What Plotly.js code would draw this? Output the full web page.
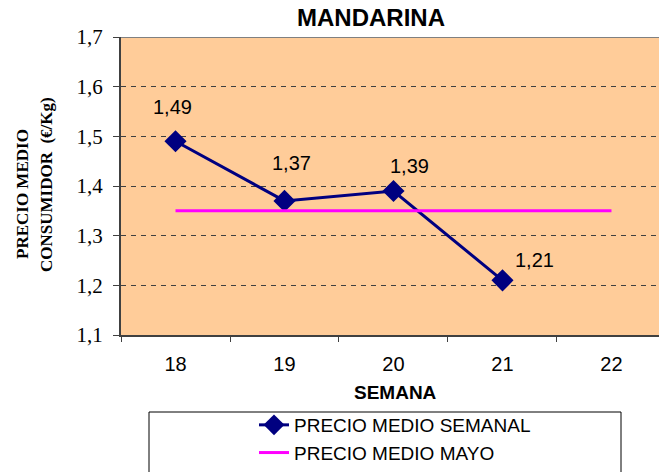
<!DOCTYPE html>
<html>
<head>
<meta charset="utf-8">
<script src="https://cdn.plot.ly/plotly-3.0.1.min.js"></script>
<style>html,body{margin:0;padding:0;background:#fff;}#chart{width:659px;height:472px;}</style>
</head>
<body>
<div id="chart"></div>
<script>
var semanas = ["18", "19", "20", "21", "22"];
var semanasPrecio = ["18", "19", "20", "21"];
var precioSemanal = [1.49, 1.37, 1.39, 1.21];
var etiquetas = ["1,49", "1,37", "1,39", "1,21"];
var precioMayo = [1.35, 1.35, 1.35, 1.35, 1.35];
var yTicks = [1.1, 1.2, 1.3, 1.4, 1.5, 1.6, 1.7];
var yTickText = ["1,1", "1,2", "1,3", "1,4", "1,5", "1,6", "1,7"];

var labelShift = [[-3, 34], [7, 38], [16, 25], [32, 20]];

var traces = [
  {
    x: semanasPrecio, y: precioSemanal, type: 'scatter', mode: 'lines+markers',
    name: 'PRECIO MEDIO SEMANAL',
    line: {color: '#000080', width: 3},
    marker: {symbol: 'diamond', size: 17, color: '#000080'}
  },
  {
    x: semanas, y: precioMayo, type: 'scatter', mode: 'lines',
    name: 'PRECIO MEDIO MAYO',
    line: {color: '#FF00FF', width: 3}
  }
];

var annotations = semanasPrecio.map(function (s, i) {
  return {
    x: semanas.indexOf(s), y: precioSemanal[i], xref: 'x', yref: 'y', text: etiquetas[i],
    showarrow: false, xshift: labelShift[i][0], yshift: labelShift[i][1],
    xanchor: 'center', yanchor: 'middle',
    font: {family: 'Liberation Sans, Arial, sans-serif', size: 20, color: '#000'}
  };
});
function paperAnn(text, px, py, size, family, angle) {
  return {
    text: text, xref: 'paper', yref: 'paper', showarrow: false,
    x: (px - 121) / 538, y: (335 - py) / 298, xanchor: 'center', yanchor: 'middle',
    textangle: angle || 0,
    font: {family: family, size: size, color: '#000', weight: 'bold'}
  };
}
var serif = 'Liberation Serif, Times New Roman, serif';
var sans = 'Liberation Sans, Arial, sans-serif';
annotations.push(paperAnn('PRECIO MEDIO', 22, 194, 17, serif, -90));
annotations.push(paperAnn('CONSUMIDOR  (€/Kg)', 47, 185, 17, serif, -90));
annotations.push(paperAnn('SEMANA', 395, 392, 19, sans));
annotations.push(paperAnn('MANDARINA', 371, 18, 24, sans));

var layout = {
  width: 659, height: 472,
  margin: {l: 121, r: 0, t: 37, b: 137, autoexpand: false},
  paper_bgcolor: '#ffffff',
  plot_bgcolor: '#FFCC99',
  showlegend: true,
  legend: {
    x: (254 - 121) / 538, y: (335 - 406) / 298, xanchor: 'left', yanchor: 'top',
    bgcolor: 'rgba(0,0,0,0)', borderwidth: 0, tracegroupgap: 0,
    font: {family: sans, size: 19, color: '#000'}
  },
  xaxis: {
    type: 'category', categoryarray: semanas, range: [-0.5, 4.436],
    tickson: 'boundaries', ticks: 'outside', ticklen: 5, tickcolor: '#404040',
    ticklabelstandoff: 10,
    showline: true, linecolor: '#404040', linewidth: 2,
    showgrid: false, zeroline: false, fixedrange: true,
    tickfont: {family: sans, size: 20, color: '#000'}
  },
  yaxis: {
    range: [1.1, 1.7], tickvals: yTicks, ticktext: yTickText,
    ticks: 'outside', ticklen: 6, tickcolor: '#404040',
    ticklabelstandoff: 6,
    showline: true, linecolor: '#404040', linewidth: 2,
    showgrid: true, gridcolor: '#404040', griddash: '5px,5px', gridwidth: 1,
    zeroline: false, fixedrange: true,
    tickfont: {family: serif, size: 21, color: '#000'}
  },
  shapes: [
    {type: 'line', xref: 'paper', yref: 'y', x0: 0, x1: 1, y0: 1.7, y1: 1.7,
     line: {color: '#808080', width: 2}},
    {type: 'rect', xref: 'paper', yref: 'paper',
     x0: (149 - 121) / 538, x1: (621 - 121) / 538,
     y0: (335 - 480) / 298, y1: (335 - 412) / 298,
     line: {color: '#000', width: 1}, fillcolor: 'rgba(0,0,0,0)', layer: 'below'}
  ],
  annotations: annotations
};

Plotly.newPlot('chart', traces, layout, {displayModeBar: false, staticPlot: true});
</script>
</body>
</html>
